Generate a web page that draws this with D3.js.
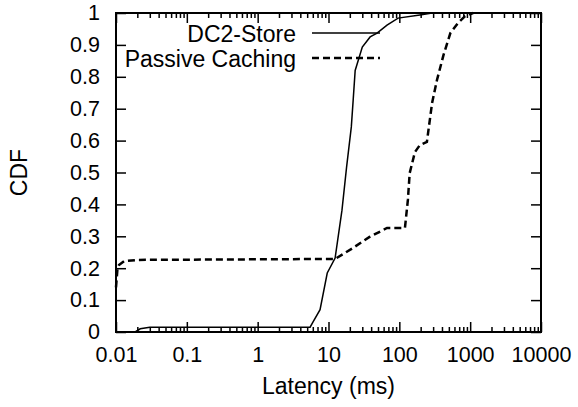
<!DOCTYPE html>
<html>
<head>
<meta charset="utf-8">
<script src="https://cdn.jsdelivr.net/npm/d3@7"></script>
<style>
  body { margin: 0; background: #fff; }
  text { font-family: "Liberation Sans", Arial, sans-serif; font-size: 23px; fill: #000; }
</style>
</head>
<body>
<script>
// DC2-Store latency (ms) vs CDF
const dc2Latency = [0.0186, 0.022, 0.03, 5.5, 6, 7.6, 9.6, 12.4, 15.5, 18, 21, 22.3, 23.8, 30, 38.7, 48.5, 67, 96, 195, 290, 1500];
const dc2Cdf     = [0, 0.01, 0.015, 0.015, 0.03, 0.07, 0.185, 0.232, 0.382, 0.517, 0.643, 0.727, 0.82, 0.893, 0.925, 0.937, 0.962, 0.984, 0.994, 1.0, 1.0];

// Passive Caching
const pcLatency = [0.01, 0.0105, 0.011, 0.013, 0.02, 12.4, 22, 38, 67, 120, 132, 140, 166, 195, 245, 290, 340, 420, 525, 680, 850, 1100];
const pcCdf     = [0.14, 0.2, 0.21, 0.222, 0.226, 0.229, 0.263, 0.298, 0.326, 0.326, 0.414, 0.498, 0.564, 0.586, 0.596, 0.718, 0.79, 0.868, 0.937, 0.97, 0.99, 1.0];

const xTicks = [0.01, 0.1, 1, 10, 100, 1000, 10000];
const xTickLabels = ["0.01", "0.1", "1", "10", "100", "1000", "10000"];
const yTicks = [0, 0.1, 0.2, 0.3, 0.4, 0.5, 0.6, 0.7, 0.8, 0.9, 1];

const width = 578, height = 407;
const margin = {top: 13, right: 37, bottom: 75, left: 116};

const svg = d3.select("body").append("svg")
    .attr("width", width)
    .attr("height", height);

const x = d3.scaleLog().domain([0.01, 10000]).range([margin.left, width - margin.right]);
const y = d3.scaleLinear().domain([0, 1]).range([height - margin.bottom, margin.top]);

// minor ticks 2..9 per decade
const minor = [];
xTicks.slice(0, -1).forEach(function(t) {
    for (let k = 2; k <= 9; k++) minor.push(t * k);
});

function tickAxis(axis, g) {
    g.call(axis);
    g.select(".domain").remove();
    g.selectAll("line").attr("stroke", "#000").attr("stroke-width", 1.5);
}

// ticks point inward, mirrored on top and right
const bottomY = height - margin.bottom, topY = margin.top;
tickAxis(d3.axisBottom(x).tickValues(xTicks).tickSize(-10).tickFormat(function(d, i) { return xTickLabels[i]; }).tickPadding(15),
    svg.append("g").attr("transform", "translate(0," + bottomY + ")"));
tickAxis(d3.axisBottom(x).tickValues(minor).tickSize(-5).tickFormat(""),
    svg.append("g").attr("transform", "translate(0," + bottomY + ")"));
tickAxis(d3.axisTop(x).tickValues(xTicks).tickSize(-10).tickFormat(""),
    svg.append("g").attr("transform", "translate(0," + topY + ")"));
tickAxis(d3.axisTop(x).tickValues(minor).tickSize(-5).tickFormat(""),
    svg.append("g").attr("transform", "translate(0," + topY + ")"));
tickAxis(d3.axisLeft(y).tickValues(yTicks).tickSize(-10).tickFormat(d3.format("")).tickPadding(16),
    svg.append("g").attr("transform", "translate(" + margin.left + ",0)"));
tickAxis(d3.axisRight(y).tickValues(yTicks).tickSize(-10).tickFormat(""),
    svg.append("g").attr("transform", "translate(" + (width - margin.right) + ",0)"));

svg.selectAll(".tick text")
    .style("font-family", "'Liberation Sans', Arial, sans-serif")
    .style("font-size", "21.5px")
    .attr("fill", "#000");

// border
svg.append("rect")
    .attr("x", margin.left).attr("y", margin.top)
    .attr("width", width - margin.left - margin.right)
    .attr("height", height - margin.top - margin.bottom)
    .attr("fill", "none").attr("stroke", "#000").attr("stroke-width", 2);

const line = d3.line()
    .x(function(d) { return x(d[0]); })
    .y(function(d) { return y(d[1]); });

svg.append("path")
    .attr("d", line(d3.zip(dc2Latency, dc2Cdf)))
    .attr("fill", "none").attr("stroke", "#000").attr("stroke-width", 1.5);

svg.append("path")
    .attr("d", line(d3.zip(pcLatency, pcCdf)))
    .attr("fill", "none").attr("stroke", "#000").attr("stroke-width", 2.5)
    .attr("stroke-dasharray", "7,4");

// legend
const legend = [
    {name: "DC2-Store", dash: null, w: 1.5},
    {name: "Passive Caching", dash: "7,4", w: 2.5}
];
legend.forEach(function(d, i) {
    const ly = 33 + i * 25;
    svg.append("text")
        .attr("x", 296).attr("y", ly + 8.5)
        .attr("text-anchor", "end")
        .text(d.name);
    svg.append("line")
        .attr("x1", 312).attr("x2", 380)
        .attr("y1", ly).attr("y2", ly)
        .attr("stroke", "#000").attr("stroke-width", d.w)
        .attr("stroke-dasharray", d.dash);
});

// axis titles
svg.append("text")
    .attr("x", (margin.left + width - margin.right) / 2)
    .attr("y", 394)
    .attr("text-anchor", "middle")
    .text("Latency (ms)");

svg.append("text")
    .attr("transform", "translate(27," + ((margin.top + height - margin.bottom) / 2) + ") rotate(-90)")
    .attr("text-anchor", "middle")
    .text("CDF");
</script>
</body>
</html>
